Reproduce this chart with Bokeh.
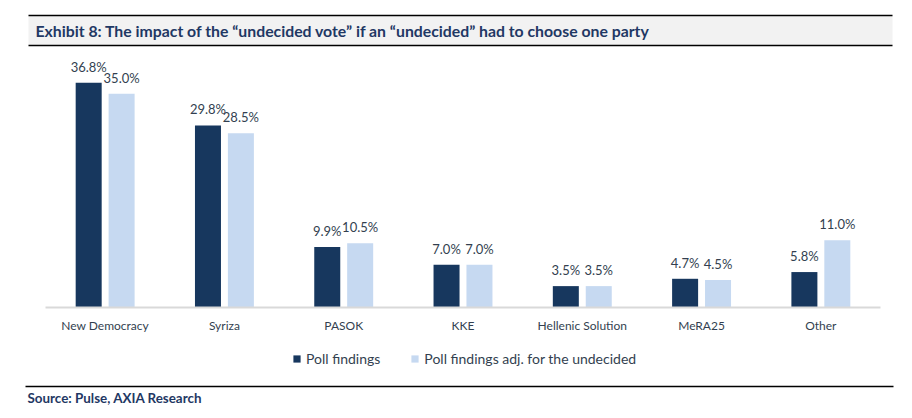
from bokeh.plotting import figure
from bokeh.models import (ColumnDataSource, Range1d, LabelSet, Label, FixedTicker,
                          BoxAnnotation, Legend, LegendItem)
from bokeh.core.properties import value
from bokeh.transform import dodge
from bokeh.embed import file_html
from bokeh.resources import INLINE

categories = ["New Democracy", "Syriza", "PASOK", "KKE", "Hellenic Solution", "MeRA25", "Other"]
poll = [36.8, 29.8, 9.9, 7.0, 3.5, 4.7, 5.8]
poll_adj = [35.0, 28.5, 10.5, 7.0, 3.5, 4.5, 11.0]
series_names = ["Poll findings", "Poll findings adj. for the undecided"]
title_text = "Exhibit 8: The impact of the \u201cundecided vote\u201d if an \u201cundecided\u201d had to choose one party"
source_text = "Source: Pulse, AXIA Research"

DARK = "#17375E"
LIGHT = "#C6D9F1"
TXT = "#333F50"
NAVY = "#1F3864"
FONT = "Lato"

W, H = 896, 408
# layout in pixels (picture coordinates)
AX_L, AX_R, AX_Y = 45, 880, 307
PX_PER_UNIT = 6.11
n = len(categories)
cat_px = (AX_R - AX_L) / n

xc = [i + 0.5 for i in range(n)]
src = ColumnDataSource(dict(
    xc=xc, poll=poll, adj=poll_adj,
    poll_lbl=[f"{v:.1f}%" for v in poll],
    adj_lbl=[f"{v:.1f}%" for v in poll_adj],
))

x0 = -AX_L / cat_px
x1 = (W - AX_L) / cat_px
y0 = -(H - AX_Y) / PX_PER_UNIT
y1 = AX_Y / PX_PER_UNIT

p = figure(width=W, height=H, output_backend="svg", toolbar_location=None,
           x_range=Range1d(x0, x1), y_range=Range1d(y0, y1),
           min_border=0, min_border_left=0, min_border_right=0,
           min_border_top=0, min_border_bottom=0)
p.outline_line_color = None
p.grid.visible = False
p.yaxis.visible = False

off = 0.138
bw = 0.218
r1 = p.vbar(x=dodge("xc", -off), top="poll", width=bw, source=src,
            fill_color=DARK, line_color=None)
r2 = p.vbar(x=dodge("xc", off), top="adj", width=bw, source=src,
            fill_color=LIGHT, line_color=None)

for col, lbl, o in (("poll", "poll_lbl", -off), ("adj", "adj_lbl", off)):
    p.add_layout(LabelSet(x=dodge("xc", o), y=col, text=lbl, source=src,
                          text_align="center", text_baseline="bottom", y_offset=8,
                          text_font=value(FONT), text_font_size=value("13px"),
                          text_color=TXT))

ax = p.xaxis[0]
ax.fixed_location = 0
ax.bounds = (0, n)
ax.ticker = FixedTicker(ticks=xc)
ax.major_label_overrides = {x: c for x, c in zip(xc, categories)}
ax.axis_line_color = "#D9D9D9"
ax.axis_line_width = 2
ax.major_tick_line_color = None
ax.minor_tick_line_color = None
ax.major_label_text_font = FONT
ax.major_label_text_font_size = "12px"
ax.major_label_text_color = TXT
ax.major_label_standoff = 4

legend = Legend(items=[LegendItem(label=series_names[0], renderers=[r1]),
                       LegendItem(label=series_names[1], renderers=[r2])],
                orientation="horizontal", location=(292, H - 367),
                glyph_width=9, glyph_height=9, label_text_font=FONT,
                label_text_font_size="14px", label_text_color=TXT,
                spacing=30, label_standoff=5, background_fill_alpha=0,
                border_line_color=None, padding=0, margin=0)
p.add_layout(legend, "center")


def sbox(l, r, top_px, bot_px, color, level="annotation"):
    p.add_layout(BoxAnnotation(left=l, right=r, top=H - top_px, bottom=H - bot_px,
                               left_units="screen", right_units="screen",
                               top_units="screen", bottom_units="screen",
                               fill_color=color, fill_alpha=1, line_color=None, level=level))


# title strip
sbox(28, 892, 15, 45, "#F2F2F2", level="underlay")
sbox(28, 892, 14.25, 15.75, "black")
sbox(28, 892, 44.25, 45.75, "black")
p.add_layout(Label(x=35, y=H - 30, x_units="screen", y_units="screen", text=title_text,
                   text_font=FONT, text_font_style="bold", text_font_size="15.8px",
                   text_color=NAVY, text_baseline="middle"))

# source strip
sbox(25, 893, 385.25, 386.75, "black")
p.add_layout(Label(x=27, y=H - 397, x_units="screen", y_units="screen", text=source_text,
                   text_font=FONT, text_font_style="bold", text_font_size="13.4px",
                   text_color=NAVY, text_baseline="middle"))

open("out.html", "w").write(file_html(p, INLINE))
